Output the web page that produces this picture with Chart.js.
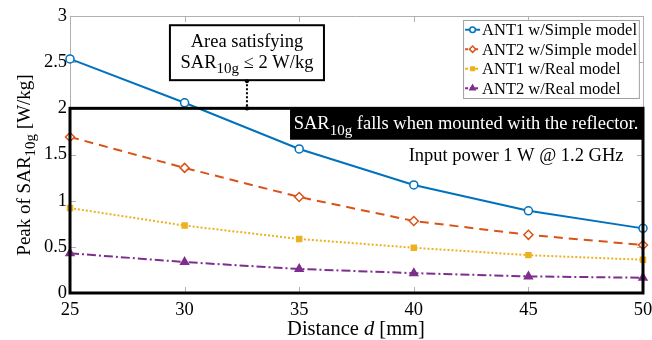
<!DOCTYPE html>
<html><head><meta charset="utf-8">
<script src="https://cdn.jsdelivr.net/npm/chart.js@4/dist/chart.umd.min.js"></script>
<style>html,body{margin:0;padding:0;background:#fff}#w{width:652px;height:340px}</style>
</head><body><div id="w"><canvas id="c" width="652" height="340"></canvas></div>
<script>
const distances = [25, 30, 35, 40, 45, 50];
const ant1Simple = [2.535, 2.06, 1.56, 1.17, 0.89, 0.70];
const ant2Simple = [1.69, 1.355, 1.04, 0.78, 0.63, 0.52];
const ant1Real = [0.92, 0.73, 0.585, 0.49, 0.41, 0.36];
const ant2Real = [0.43, 0.335, 0.26, 0.215, 0.18, 0.165];
const seriesNames = ["ANT1 w/Simple model", "ANT2 w/Simple model", "ANT1 w/Real model", "ANT2 w/Real model"];
const xTicks = [25, 30, 35, 40, 45, 50];
const yTicks = [0, 0.5, 1, 1.5, 2, 2.5, 3];

const FONT = '"Liberation Serif", "Times New Roman", serif';
const colors = ['#0072BD', '#D95319', '#EDB120', '#7E2F8E'];
const dashes = [[], [9, 6], [2, 2], [9, 3, 2, 3]];
const pts = ['circle', 'rectRot', 'rect', 'triangle'];
const fills = ['#ffffff', '#ffffff', '#EDB120', '#7E2F8E'];
const radii = [4, 4.5, 3.5, 4.5];
const vals = [ant1Simple, ant2Simple, ant1Real, ant2Real];

const datasets = vals.map((v, i) => ({
  label: seriesNames[i],
  data: distances.map((d, j) => ({x: d, y: v[j]})),
  borderColor: colors[i], backgroundColor: fills[i], pointBorderColor: colors[i],
  pointBackgroundColor: fills[i], borderWidth: 2, borderDash: dashes[i],
  pointStyle: pts[i], pointRadius: radii[i], pointBorderWidth: 1.5,
  tension: 0, clip: false
}));

function subText(ctx, x, y, main, sub, size, rest, align, subRatio) {
  ctx.textBaseline = 'alphabetic';
  ctx.textAlign = 'left';
  const r = subRatio || 0.75;
  const f1 = size + 'px ' + FONT, f2 = Math.round(size * r) + 'px ' + FONT;
  ctx.font = f1; const w1 = ctx.measureText(main).width;
  ctx.font = f2; const w2 = ctx.measureText(sub).width;
  ctx.font = f1; const w3 = ctx.measureText(rest).width;
  const tot = w1 + w2 + w3;
  let sx = x;
  if (align === 'center') sx = x - tot / 2;
  if (align === 'right') sx = x - tot;
  ctx.font = f1; ctx.fillText(main, sx, y);
  ctx.font = f2; ctx.fillText(sub, sx + w1, y + size * 0.28);
  ctx.font = f1; ctx.fillText(rest, sx + w1 + w2, y);
  return tot;
}

const deco = {
  id: 'deco',
  beforeDatasetsDraw(chart) {
    const {ctx, chartArea: a, scales: {x, y}} = chart;
    ctx.save();
    ctx.strokeStyle = '#b0b0b0'; ctx.lineWidth = 1;
    ctx.beginPath();
    ctx.moveTo(a.left, a.top + 0.5); ctx.lineTo(a.right, a.top + 0.5);
    ctx.moveTo(a.right + 0.5, a.top); ctx.lineTo(a.right + 0.5, a.bottom);
    ctx.moveTo(a.left + 0.5, a.top); ctx.lineTo(a.left + 0.5, a.bottom);
    ctx.stroke();
    ctx.beginPath();
    xTicks.forEach(t => {
      const px = Math.round(x.getPixelForValue(t)) + 0.5;
      ctx.moveTo(px, a.top); ctx.lineTo(px, a.top + 6);
      ctx.moveTo(px, a.bottom); ctx.lineTo(px, a.bottom - 6);
    });
    yTicks.forEach(t => {
      const py = Math.round(y.getPixelForValue(t)) + 0.5;
      ctx.moveTo(a.right, py); ctx.lineTo(a.right - 6, py);
      ctx.moveTo(a.left, py); ctx.lineTo(a.left + 6, py);
    });
    ctx.stroke();
    ctx.restore();
  },
  afterDatasetsDraw(chart) {
    const {ctx, chartArea: a, scales: {x, y}} = chart;
    ctx.save();
    const X = v => x.getPixelForValue(v), Y = v => y.getPixelForValue(v);
    ctx.strokeStyle = '#000'; ctx.lineWidth = 3;
    ctx.strokeRect(X(25), Y(2), X(50) - X(25), Y(0) - Y(2));
    ctx.fillStyle = '#000';
    ctx.fillRect(X(34.6), Y(2), X(50) - X(34.6), Y(1.66) - Y(2));
    ctx.fillStyle = '#fff';
    subText(ctx, X(34.76), Y(2) + 21, 'SAR', '10g', 18.5, ' falls when mounted with the reflector.', 'left', 0.8);
    ctx.fillStyle = '#000';
    ctx.font = '18.5px ' + FONT; ctx.textAlign = 'right'; ctx.textBaseline = 'alphabetic';
    ctx.fillText('Input power 1 W @ 1.2 GHz', X(49.15), Y(1.43));
    const bx0 = X(29.36), bx1 = X(36.08), by0 = Y(2.9), by1 = Y(2.305);
    ctx.fillStyle = '#fff'; ctx.fillRect(bx0, by0, bx1 - bx0, by1 - by0);
    ctx.strokeStyle = '#000'; ctx.lineWidth = 2; ctx.strokeRect(bx0, by0, bx1 - bx0, by1 - by0);
    ctx.fillStyle = '#000'; ctx.font = '18.5px ' + FONT; ctx.textAlign = 'center';
    const cx = (bx0 + bx1) / 2;
    ctx.fillText('Area satisfying', cx, by0 + 22);
    subText(ctx, cx, by0 + 43, 'SAR', '10g', 18.5, ' \u2264 2 W/kg', 'center', 0.8);
    const dx = X(32.72);
    ctx.setLineDash([2, 2]); ctx.lineWidth = 2;
    ctx.beginPath(); ctx.moveTo(dx, by1); ctx.lineTo(dx, Y(2)); ctx.stroke();
    ctx.setLineDash([]);
    ctx.beginPath(); ctx.arc(dx, by1 + 1, 2, 0, Math.PI * 2); ctx.fill();
    ctx.beginPath(); ctx.arc(dx, Y(2), 2.2, 0, Math.PI * 2); ctx.fill();
    const lx0 = X(42.15), lx1 = X(49.82), ly0 = Y(2.957), ly1 = Y(2.112);
    ctx.fillStyle = '#fff'; ctx.fillRect(lx0, ly0, lx1 - lx0, ly1 - ly0);
    ctx.strokeStyle = '#a0a0a0'; ctx.lineWidth = 1; ctx.strokeRect(lx0 + 0.5, ly0 + 0.5, lx1 - lx0, ly1 - ly0);
    const step = (ly1 - ly0) / 4;
    chart.data.datasets.forEach((ds, i) => {
      const cy = ly0 + step * (i + 0.5);
      ctx.strokeStyle = ds.borderColor; ctx.lineWidth = 2; ctx.setLineDash(ds.borderDash.length ? [3, 2] : []);
      ctx.beginPath(); ctx.moveTo(lx0 + 2, cy); ctx.lineTo(lx0 + 17, cy); ctx.stroke();
      ctx.setLineDash([]);
      ctx.fillStyle = ds.pointBackgroundColor; ctx.strokeStyle = ds.pointBorderColor; ctx.lineWidth = 1.5;
      Chart.helpers.drawPoint(ctx, {pointStyle: ds.pointStyle, radius: ds.pointRadius * 0.7, borderWidth: 1.5}, lx0 + 9.5, cy);
      ctx.fillStyle = '#000'; ctx.font = '16.5px ' + FONT; ctx.textAlign = 'left'; ctx.textBaseline = 'middle';
      ctx.fillText(ds.label, lx0 + 19, cy + 1);
    });
    ctx.fillStyle = '#000'; ctx.textBaseline = 'alphabetic';
    const fs = 20.5;
    const tx = 356, ty = 335;
    const p1 = 'Distance ', p3 = ' [mm]';
    ctx.font = fs + 'px ' + FONT; const w1 = ctx.measureText(p1).width, w3 = ctx.measureText(p3).width;
    ctx.font = 'italic ' + fs + 'px ' + FONT; const w2 = ctx.measureText('d').width;
    let sx = tx - (w1 + w2 + w3) / 2; ctx.textAlign = 'left';
    ctx.font = fs + 'px ' + FONT; ctx.fillText(p1, sx, ty);
    ctx.font = 'italic ' + fs + 'px ' + FONT; ctx.fillText('d', sx + w1, ty);
    ctx.font = fs + 'px ' + FONT; ctx.fillText(p3, sx + w1 + w2, ty);
    ctx.save();
    ctx.translate(30, 165);
    ctx.rotate(-Math.PI / 2);
    ctx.fillStyle = '#000';
    subText(ctx, 0, 0, 'Peak of SAR', '10g', 19, ' [W/kg]', 'center', 0.8);
    ctx.restore();
    ctx.restore();
  }
};

new Chart(document.getElementById('c'), {
  type: 'line',
  data: {datasets},
  options: {
    responsive: false, animation: false, devicePixelRatio: 1,
    layout: {padding: {left: 0, right: 9, top: 16, bottom: 0}},
    plugins: {legend: {display: false}, tooltip: {enabled: false}},
    scales: {
      x: {type: 'linear', min: 25, max: 50,
        afterBuildTicks: s => { s.ticks = xTicks.map(v => ({value: v})); },
        afterFit: s => { s.height = 47; s.paddingLeft = 0; s.paddingRight = 0; },
        grid: {display: false, drawTicks: false}, border: {display: false},
        ticks: {color: '#000', font: {family: FONT, size: 18.5}, padding: 6, maxRotation: 0,
          callback: v => String(v)}},
      y: {min: 0, max: 3,
        afterBuildTicks: s => { s.ticks = yTicks.map(v => ({value: v})); },
        afterFit: s => { s.width = 70; s.paddingTop = 0; s.paddingBottom = 0; },
        grid: {display: false, drawTicks: false}, border: {display: false},
        ticks: {color: '#000', font: {family: FONT, size: 18.5}, padding: 3,
          callback: v => String(v)}}
    }
  },
  plugins: [deco]
});
</script>
</body></html>
